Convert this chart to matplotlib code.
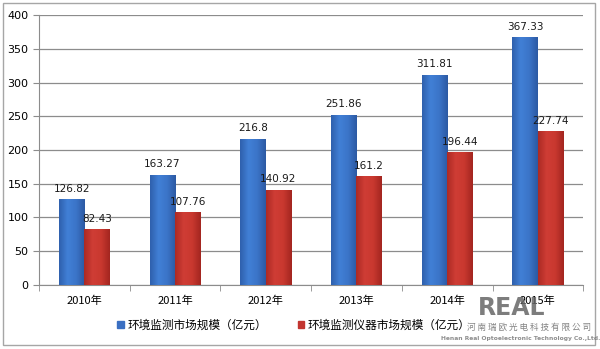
import numpy as np
import matplotlib
matplotlib.use("Agg")
import matplotlib.pyplot as plt
from matplotlib.colors import LinearSegmentedColormap
from matplotlib.patches import Rectangle

plt.rcParams['font.family'] = ['Noto Sans CJK SC', 'DejaVu Sans']

# data
years = ['2010年', '2011年', '2012年', '2013年', '2014年', '2015年']
market = [126.82, 163.27, 216.8, 251.86, 311.81, 367.33]
instrument = [82.43, 107.76, 140.92, 161.2, 196.44, 227.74]
series_names = ['环境监测市场规模（亿元）', '环境监测仪器市场规模（亿元）']

blue_cmap = LinearSegmentedColormap.from_list('b', ['#2f60ad', '#4180d6', '#3b74c8', '#2c5aa3'])
red_cmap = LinearSegmentedColormap.from_list('r', ['#ac2a24', '#cf3d35', '#c9382f', '#a32620'])

fig = plt.figure(figsize=(6, 3.49), dpi=100)
fig.patches.append(Rectangle((0.005, 0.012), 0.986, 0.978, transform=fig.transFigure,
                             fill=False, edgecolor='#a6a6a6', linewidth=1))

ax = fig.add_axes([0.065, 0.1834, 0.907, 0.7736])
x = np.arange(len(years))
w = 0.28

grad = np.linspace(0, 1, 64).reshape(1, -1)
for vals, off, cm in [(market, -w / 2, blue_cmap), (instrument, w / 2, red_cmap)]:
    bars = ax.bar(x + off, vals, width=w, color='none', zorder=3)
    for b, v in zip(bars, vals):
        im = ax.imshow(grad, cmap=cm, aspect='auto', zorder=3,
                       extent=[b.get_x(), b.get_x() + b.get_width(), 0, v])
        im.set_clip_path(b)
        ax.annotate(f'{v:g}', (b.get_x() + b.get_width() / 2, v), xytext=(0, 4),
                    textcoords='offset points', ha='center', va='bottom',
                    fontsize=7.5, color='#1a1a1a', family='DejaVu Sans', zorder=5)

ax.set_xlim(-0.5, len(years) - 0.5)
ax.set_ylim(0, 400)
ax.set_yticks(range(0, 401, 50))
ax.yaxis.grid(True, color='#8c8c8c', linewidth=0.9)
ax.set_axisbelow(True)
ax.set_xticks(x)
ax.set_xticklabels(years, fontsize=8)
ax.set_xticks(np.arange(-0.5, len(years), 1), minor=True)
ax.tick_params(axis='x', which='major', length=0, pad=8)
ax.tick_params(axis='x', which='minor', length=4, color='#8c8c8c')
ax.tick_params(axis='y', length=4, color='#8c8c8c', labelsize=8)
for lab in ax.get_yticklabels():
    lab.set_family('DejaVu Sans')
for s in ['top', 'right']:
    ax.spines[s].set_visible(False)
for s in ['left', 'bottom']:
    ax.spines[s].set_color('#8c8c8c')

# legend
handles = [Rectangle((0, 0), 1, 1, color='#3a6fc2'), Rectangle((0, 0), 1, 1, color='#c23530')]
fig.legend(handles, series_names, loc='center', bbox_to_anchor=(0.49, 0.068), ncol=2,
           frameon=False, fontsize=8.4, handlelength=0.55, handleheight=0.55,
           handletextpad=0.35, columnspacing=2.6)

# company logo stamped over the bottom right corner
fig.text(0.853, 0.118, 'REAL', fontsize=17, fontweight='bold', color='#666666',
         ha='center', va='center', family='DejaVu Sans', alpha=0.85, zorder=10)
fig.text(0.882, 0.063, '河 南 瑞 欧 光 电 科 技 有 限 公 司', fontsize=6.2, color='#6e6e6e',
         ha='center', va='center', alpha=0.85, zorder=10)
fig.text(0.868, 0.029, 'Henan Real Optoelectronic Technology Co.,Ltd.', fontsize=4.3,
         fontweight='bold', color='#7a7a7a', ha='center', va='center',
         family='DejaVu Sans', alpha=0.85, zorder=10)

fig.savefig('out.png', dpi=100)
